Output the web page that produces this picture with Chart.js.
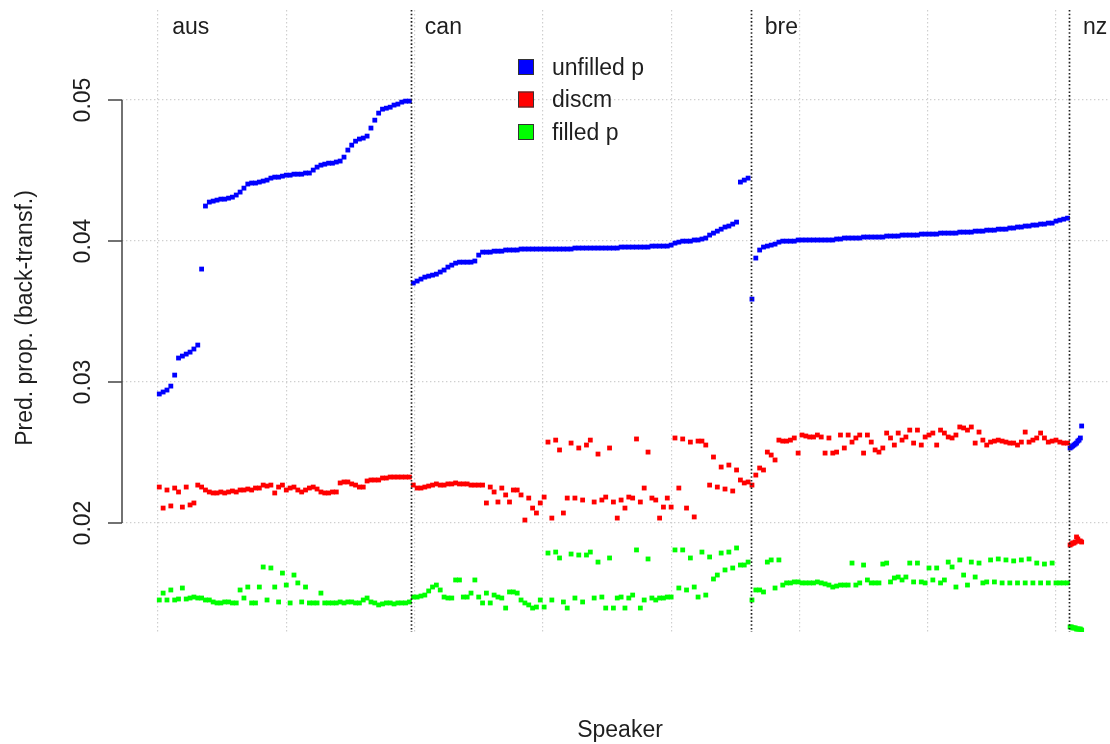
<!DOCTYPE html>
<html><head><meta charset="utf-8">
<script src="https://cdn.jsdelivr.net/npm/chart.js@4/dist/chart.umd.min.js"></script>
<style>html,body{margin:0;padding:0;background:#fff;overflow:hidden}canvas{display:block}</style>
</head><body>
<canvas id="c" width="1110" height="744"></canvas>
<script>
// ---- data ----
const groups = ['aus', 'can', 'bre', 'nz'];
const groupBoundaries = [0.5, 197.5, 462.5, 710.5];
// plotted speaker ranks per group: [first, last, step]
const speakerRanges = [[1, 196, 3], [199, 460, 3], [463, 709, 3], [711, 720, 1]];
const xTicks = [0, 100, 200, 300, 400, 500, 600, 700];
const yTicks = [0.02, 0.03, 0.04, 0.05];
const seriesNames = ['unfilled p', 'discm', 'filled p'];
const seriesColors = ['#0000ff', '#ff0000', '#00ff00'];
const xTitle = 'Speaker';
const yTitle = 'Pred. prop. (back-transf.)';

const unfilledAus = [.02915,.02929,.02943,.02971,.03049,.0317,.03184,.03198,.03212,.03234,
 .03262,.03801,.04248,.04276,.04283,.0429,.04297,.04297,.04304,.04311,
 .04326,.04347,.04375,.04404,.04411,.04411,.04418,.04425,.04432,.04446,
 .04453,.04453,.0446,.04467,.04467,.04474,.04474,.04474,.04482,.04482,
 .04503,.04524,.04538,.04545,.04552,.04552,.0456,.04567,.04595,.04645,
 .0468,.04708,.04723,.0473,.04744,.04801,.04857,.04907,.04935,.04942,
 .04949,.04964,.04971,.04985,.04992,.04992];
const unfilledCan = [.03702,.03716,.0373,.03744,.03751,.03758,.03765,.0378,.03794,.03815,
 .03829,.03843,.0385,.0385,.0385,.0385,.03858,.039,.03921,.03921,
 .03921,.03928,.03928,.03928,.03936,.03936,.03936,.03936,.03943,.03943,
 .03943,.03943,.03943,.03943,.03943,.03943,.03943,.03943,.03943,.03943,
 .03943,.03943,.0395,.0395,.0395,.0395,.0395,.0395,.0395,.0395,
 .0395,.0395,.0395,.0395,.03957,.03957,.03957,.03957,.03957,.03957,
 .03957,.03957,.03964,.03964,.03964,.03964,.03964,.03971,.03985,.03992,
 .03999,.03999,.03999,.04007,.04007,.04014,.04021,.04042,.04056,.0407,
 .04084,.04099,.04106,.0412,.04134,.04418,.04432,.04446];
const unfilledBre = [.03588,.03879,.03936,.03957,.03964,.03971,.03978,.03992,.03999,.03999,
 .03999,.03999,.04007,.04007,.04007,.04007,.04007,.04007,.04007,.04007,
 .04007,.04007,.04014,.04014,.04021,.04021,.04021,.04021,.04021,.04028,
 .04028,.04028,.04028,.04028,.04028,.04035,.04035,.04035,.04035,.04042,
 .04042,.04042,.04042,.04042,.04049,.04049,.04049,.04049,.04049,.04056,
 .04056,.04056,.04056,.04056,.04063,.04063,.04063,.04063,.0407,.0407,
 .0407,.04077,.04077,.04077,.04084,.04084,.04084,.04092,.04092,.04099,
 .04099,.04106,.04106,.04113,.04113,.0412,.0412,.04127,.04127,.04141,
 .04148,.04155,.04162];
const unfilledNz = [.02532,.02539,.02546,.02553,.0256,.02567,.02581,.02588,.02603,.02688];

const discmAus = [.02255,.02106,.02234,.02121,.02248,.0222,.02113,.02255,.02128,.02142,
 .02269,.02255,.02234,.0222,.02213,.02213,.0222,.02213,.0222,.02227,
 .0222,.02234,.02234,.02241,.02234,.02248,.02248,.02269,.02262,.02269,
 .02213,.02255,.02269,.02234,.02248,.02255,.02234,.0222,.02234,.02248,
 .02255,.02241,.0222,.02213,.02213,.0222,.0222,.02284,.02291,.02291,
 .02277,.02269,.02255,.02255,.02298,.02305,.02305,.02305,.02319,.02319,
 .02326,.02326,.02326,.02326,.02326,.02326];
const discmCan = [.02269,.02248,.02248,.02255,.02262,.02269,.02277,.02269,.02269,.02277,
 .02277,.02284,.02277,.02277,.02277,.02269,.02269,.02269,.02269,.02142,
 .02255,.0222,.02149,.02248,.02199,.02149,.02234,.02234,.02199,.02021,
 .02177,.02106,.02071,.02142,.02184,.02574,.02035,.02588,.02518,.02071,
 .02177,.02567,.02177,.02532,.02163,.02553,.02588,.02149,.02489,.02163,
 .02184,.02532,.02149,.02035,.02163,.02106,.02184,.02177,.02596,.02149,
 .02248,.02503,.02177,.02163,.02035,.02113,.02177,.02113,.02603,.02248,
 .02596,.02106,.02574,.02043,.02581,.02581,.02553,.02269,.02468,.02255,
 .02397,.02241,.02411,.02227,.02376,.02305,.02284,.02291];
const discmBre = [.02269,.0234,.0239,.02376,.02503,.02482,.02447,.02588,.02581,.02581,
 .02588,.02603,.02496,.02624,.02617,.0261,.0261,.02624,.0261,.02496,
 .02603,.02496,.02503,.02624,.02532,.02624,.02574,.02603,.02624,.02496,
 .02624,.02574,.02518,.02503,.02532,.02638,.02603,.02553,.02638,.02588,
 .0261,.02659,.02567,.02659,.02553,.0261,.02624,.02638,.02553,.02659,
 .02638,.0261,.02603,.02624,.02681,.02674,.02659,.02681,.02567,.02645,
 .02588,.02553,.02574,.02581,.02588,.02581,.02574,.02567,.02567,.02553,
 .02574,.02645,.02574,.02588,.02603,.02638,.02603,.02574,.02581,.02588,
 .02574,.02567,.02567];
const discmNz = [.01844,.01851,.01858,.01858,.01865,.01901,.01887,.01872,.01872,.01865];

const filledAus = [.01454,.01503,.01454,.01525,.01454,.01461,.01539,.01461,.01468,.01475,
 .01468,.01468,.01454,.01454,.0144,.01433,.01433,.0144,.0144,.01433,
 .01433,.01525,.01468,.01546,.01433,.01433,.01546,.01688,.01454,.01681,
 .01546,.0144,.01645,.0156,.01433,.01631,.01575,.0144,.01546,.01433,
 .01433,.01433,.01503,.01433,.01433,.01433,.01433,.0144,.01433,.0144,
 .0144,.01433,.01433,.01454,.01468,.0144,.01433,.01419,.01426,.01433,
 .01433,.01426,.01433,.01433,.01433,.0144];
const filledCan = [.01475,.01475,.01482,.01489,.01518,.01546,.0156,.01525,.01475,.01468,
 .01468,.01596,.01596,.01475,.01475,.01503,.01596,.01475,.01433,.01503,
 .01433,.01489,.01475,.01468,.01397,.01511,.01511,.01503,.01454,.01433,
 .01419,.01397,.01404,.01454,.01404,.01787,.01454,.01794,.01752,.0144,
 .01397,.0178,.01468,.01773,.0144,.01773,.01794,.01468,.01723,.01475,
 .01397,.01752,.01397,.01468,.01475,.01397,.01468,.01489,.01809,.01397,
 .01454,.01745,.01468,.01454,.01468,.01468,.01475,.01475,.01809,.01539,
 .01809,.01525,.01752,.01546,.01475,.01794,.01489,.01759,.01603,.01631,
 .01787,.01667,.01794,.01681,.01823,.01702,.01702,.01723];
const filledBre = [.01454,.01525,.01525,.01511,.01723,.01738,.01539,.01738,.0156,.01575,
 .01575,.01582,.01582,.01575,.01575,.01575,.01575,.01582,.01575,.01568,
 .0156,.01546,.01553,.0156,.0156,.0156,.01716,.0156,.01575,.01702,
 .01596,.01575,.01575,.01575,.01709,.01716,.01582,.0161,.01617,.01596,
 .01617,.01716,.01582,.01716,.01582,.01575,.01681,.01596,.01681,.01575,
 .01596,.01723,.01688,.01546,.01738,.01631,.0156,.01723,.01617,.01716,
 .01575,.01582,.01738,.01582,.01745,.01575,.01738,.01575,.01731,.01575,
 .01738,.01575,.01745,.01575,.01716,.01575,.01709,.01575,.01716,.01575,
 .01575,.01575,.01575];
const filledNz = [.01263,.01263,.01256,.01256,.01256,.01248,.01248,.01248,.01248,.01241];

// ---- build ----
function speakersOf(g) {
  const [a, b, s] = speakerRanges[g];
  const r = [];
  for (let i = a; i <= b; i += s) r.push(i);
  return r;
}
function toPoints(perGroup) {
  const out = [];
  perGroup.forEach((vals, g) => {
    const xs = speakersOf(g);
    vals.forEach((v, i) => out.push({ x: xs[i], y: v }));
  });
  return out;
}
const seriesData = [
  toPoints([unfilledAus, unfilledCan, unfilledBre, unfilledNz]),
  toPoints([discmAus, discmCan, discmBre, discmNz]),
  toPoints([filledAus, filledCan, filledBre, filledNz])
];

const FONT = '23px "Liberation Sans", Arial, Helvetica, sans-serif';
const TEXT = '#1e1e1e';

const rStyle = {
  id: 'rStyle',
  afterDatasetsDraw(chart) {
    const { ctx, chartArea: a, scales: { x, y } } = chart;
    ctx.save();
    // group separators
    ctx.strokeStyle = '#222';
    ctx.lineWidth = 1.7;
    ctx.setLineDash([1.6, 2.1]);
    groupBoundaries.slice(1).forEach(b => {
      const px = Math.round(x.getPixelForValue(b)) + 0.5;
      ctx.beginPath(); ctx.moveTo(px, a.top); ctx.lineTo(px, a.bottom); ctx.stroke();
    });
    ctx.setLineDash([]);
    // R-style y axis
    const yA = y.getPixelForValue(yTicks[0]);
    const yB = y.getPixelForValue(yTicks[yTicks.length - 1]);
    const ax = a.left;
    ctx.strokeStyle = '#444';
    ctx.lineWidth = 1.5;
    ctx.beginPath();
    ctx.moveTo(ax, yA); ctx.lineTo(ax, yB);
    yTicks.forEach(v => { const py = y.getPixelForValue(v); ctx.moveTo(ax - 14, py); ctx.lineTo(ax, py); });
    ctx.stroke();
    ctx.fillStyle = TEXT;
    ctx.font = FONT;
    yTicks.forEach(v => {
      const py = y.getPixelForValue(v);
      ctx.save(); ctx.translate(90, py); ctx.rotate(-Math.PI / 2);
      ctx.textAlign = 'center'; ctx.textBaseline = 'alphabetic';
      ctx.fillText(v.toFixed(2), 0, 0);
      ctx.restore();
    });
    // y title
    ctx.save(); ctx.translate(32, 318); ctx.rotate(-Math.PI / 2);
    ctx.textAlign = 'center'; ctx.textBaseline = 'alphabetic';
    ctx.fillText(yTitle, 0, 0);
    ctx.restore();
    // x title
    ctx.textAlign = 'center'; ctx.textBaseline = 'alphabetic';
    ctx.fillText(xTitle, 620, 737);
    // group labels
    ctx.textAlign = 'left';
    groups.forEach((g, i) => {
      ctx.fillText(g, x.getPixelForValue(groupBoundaries[i]) + 13.5, 34);
    });
    // legend
    const legY = [67, 99.5, 132];
    chart.data.datasets.forEach((ds, i) => {
      const cy = legY[i];
      ctx.fillStyle = ds.backgroundColor;
      ctx.fillRect(518, cy - 8, 16, 16);
      ctx.strokeStyle = '#333'; ctx.lineWidth = 1;
      ctx.strokeRect(518.5, cy - 7.5, 15, 15);
      ctx.fillStyle = TEXT;
      ctx.fillText(ds.label, 552, cy + 7.5);
    });
    ctx.restore();
  }
};

new Chart(document.getElementById('c'), {
  type: 'scatter',
  data: {
    datasets: seriesNames.map((n, i) => ({
      label: n,
      data: seriesData[i],
      backgroundColor: seriesColors[i],
      borderColor: seriesColors[i],
      pointStyle: 'rect',
      pointRadius: 3.4,
      pointBorderWidth: 0,
      pointHoverRadius: 3.4,
      order: 2 - i
    }))
  },
  options: {
    responsive: false,
    animation: false,
    devicePixelRatio: 1,
    layout: { padding: { left: 122, top: 10, right: 0, bottom: 112 }, autoPadding: false },
    plugins: { legend: { display: false }, tooltip: { enabled: false } },
    events: [],
    scales: {
      x: {
        type: 'linear', min: -28.06, max: 742.1,
        afterBuildTicks: s => { s.ticks = xTicks.map(v => ({ value: v })); },
        afterFit: s => { s.height = 0; },
        ticks: { display: false },
        grid: { color: '#cfcfcf', lineWidth: 1.2, drawTicks: false },
        border: { display: false, dash: [1.4, 2.6] }
      },
      y: {
        type: 'linear', min: 0.01227, max: 0.056383,
        afterBuildTicks: s => { s.ticks = yTicks.map(v => ({ value: v })); },
        afterFit: s => { s.width = 0; },
        ticks: { display: false },
        grid: { color: '#cfcfcf', lineWidth: 1.2, drawTicks: false },
        border: { display: false, dash: [1.4, 2.6] }
      }
    }
  },
  plugins: [rStyle]
});
</script>
</body></html>
